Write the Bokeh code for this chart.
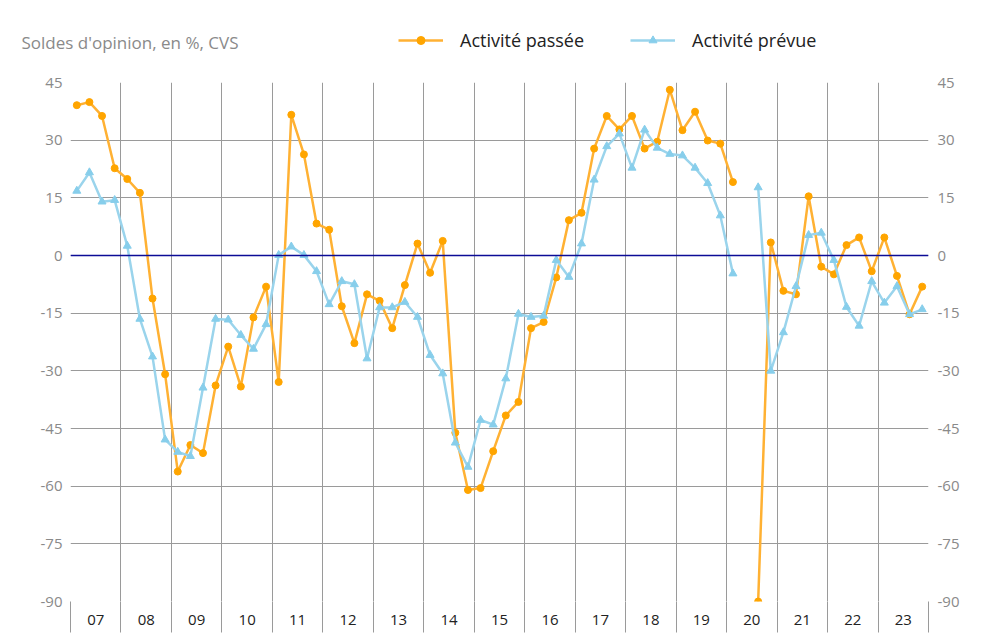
from bokeh.plotting import figure
from bokeh.layouts import column
from bokeh.models import (FixedTicker, Span, Legend, LegendItem, Label,
                          LinearAxis, Range1d, ColumnDataSource)
from bokeh.embed import file_html
from bokeh.resources import INLINE

years = list(range(2007, 2024))
year_labels = ["07", "08", "09", "10", "11", "12", "13", "14", "15",
               "16", "17", "18", "19", "20", "21", "22", "23"]
quarters = [1, 2, 3, 4]
y_ticks = [-90, -75, -60, -45, -30, -15, 0, 15, 30, 45]

nan = float("nan")
activite_passee = [
    39.1, 39.9, 36.3, 22.7,
    19.9, 16.3, -11.2, -30.9,
    -56.2, -49.3, -51.4, -33.8,
    -23.7, -34.1, -16.1, -8.1,
    -32.9, 36.6, 26.3, 8.3,
    6.7, -13.2, -22.8, -10.1,
    -11.8, -18.9, -7.7, 3.1,
    -4.5, 3.8, -46.1, -61.0,
    -60.5, -50.9, -41.6, -38.1,
    -18.9, -17.3, -5.7, 9.2,
    11.1, 27.8, 36.3, 32.8,
    36.3, 27.8, 29.6, 43.1,
    32.6, 37.4, 29.9, 29.1,
    19.1, nan, -90.0, 3.4,
    -9.2, -10.1, 15.4, -2.9,
    -4.9, 2.7, 4.7, -4.1,
    4.7, -5.3, -15.3, -8.1,
]
activite_prevue = [
    16.8, 21.6, 14.0, 14.4,
    2.5, -16.5, -26.3, -47.9,
    -51.1, -52.2, -34.4, -16.5,
    -16.7, -20.7, -24.3, -17.9,
    0.1, 2.3, 0.1, -4.1,
    -12.7, -6.7, -7.5, -26.8,
    -13.5, -13.5, -12.1, -16.0,
    -25.9, -30.7, -48.7, -55.0,
    -42.8, -44.0, -32.0, -15.2,
    -16.0, -15.7, -1.2, -5.6,
    3.1, 19.7, 28.4, 31.7,
    22.8, 32.7, 28.0, 26.4,
    26.0, 22.8, 18.8, 10.4,
    -4.7, nan, 17.7, -30.0,
    -20.0, -8.0, 5.3, 5.9,
    -1.2, -13.4, -18.3, -6.7,
    -12.3, -8.0, -15.3, -14.0,
]

x = [y + (q - 0.5) / 4 for y in years for q in quarters]
src = ColumnDataSource(dict(x=x, passee=activite_passee, prevue=activite_prevue))

centers = [y + 0.5 for y in years]
bounds = years + [years[-1] + 1]
y_labels = {t: str(t) for t in y_ticks}

FONT = "Open Sans"
ORANGE_LINE = "#FFB133"
ORANGE = "#FFA500"
BLUE_LINE = "#9AD4EC"
BLUE = "#87CEEB"
GRID = "#9a9a9a"
W = 980
TOP_H = 64

# ---------- header strip: subtitle + legend ----------
# (its ranges lie away from the data, so its renderers only feed the legend)
head = figure(width=W, height=TOP_H, output_backend="svg", toolbar_location=None,
              x_range=Range1d(0, 1), y_range=Range1d(0, 1),
              min_border_left=0, min_border_right=0, min_border_top=0, min_border_bottom=0)
head.frame_align = False
head.axis.visible = False
head.grid.visible = False
head.outline_line_color = None
head.border_fill_color = "white"
hl1 = head.line("x", "passee", source=src, line_color=ORANGE_LINE, line_width=2.5)
hs1 = head.scatter("x", "passee", source=src, marker="circle", size=7,
                   fill_color=ORANGE, line_color=ORANGE)
hl2 = head.line("x", "prevue", source=src, line_color=BLUE_LINE, line_width=2.5)
hs2 = head.scatter("x", "prevue", source=src, marker="triangle", size=8,
                   fill_color=BLUE, line_color=BLUE)

legend = Legend(items=[LegendItem(label="Activité passée", renderers=[hl1, hs1]),
                       LegendItem(label="Activité prévue", renderers=[hl2, hs2])],
                location=(398, TOP_H - 52), orientation="horizontal",
                glyph_width=45, glyph_height=20, label_standoff=17, spacing=46,
                padding=0, margin=0, border_line_color=None, background_fill_alpha=0,
                label_text_font=FONT, label_text_font_size="18px",
                label_text_color="#222222")
head.add_layout(legend, "center")
head.add_layout(Label(x=21, y=TOP_H - 42, x_units="screen", y_units="screen",
                      text="Soldes d'opinion, en %, CVS", text_font=FONT,
                      text_font_size="17px", text_color="#8a8a8a",
                      text_baseline="middle", text_align="left"))

# ---------- main chart ----------
p = figure(width=W, height=570, output_backend="svg", toolbar_location=None,
           x_range=Range1d(years[0], years[-1] + 1), y_range=Range1d(-90, 45),
           min_border_left=70, min_border_right=52, min_border_top=82 - TOP_H,
           min_border_bottom=33)
p.frame_align = False
p.outline_line_color = None
p.background_fill_color = "white"
p.border_fill_color = "white"

# y axes
p.yaxis.ticker = FixedTicker(ticks=y_ticks)
p.yaxis.major_label_overrides = y_labels
p.yaxis.axis_line_color = None
p.yaxis.major_tick_line_color = None
p.yaxis.minor_tick_line_color = None
p.yaxis.major_tick_out = 0
p.yaxis.major_tick_in = 0
p.yaxis.major_label_standoff = 8
p.yaxis.major_label_text_color = "#8a8a8a"
p.yaxis.major_label_text_font = FONT
p.yaxis.major_label_text_font_size = "15px"

ry = LinearAxis(ticker=FixedTicker(ticks=y_ticks))
ry.major_label_overrides = y_labels
ry.axis_line_color = None
ry.major_tick_line_color = None
ry.minor_tick_line_color = None
ry.major_tick_out = 0
ry.major_tick_in = 0
ry.major_label_standoff = 9
ry.major_label_text_color = "#8a8a8a"
ry.major_label_text_font = FONT
ry.major_label_text_font_size = "15px"
p.add_layout(ry, "right")

# x axis
p.xaxis.ticker = FixedTicker(ticks=centers, minor_ticks=bounds)
p.xaxis.major_label_overrides = {c: l for c, l in zip(centers, year_labels)}
p.xaxis.axis_line_color = None
p.xaxis.major_tick_line_color = None
p.xaxis.major_tick_out = 0
p.xaxis.major_tick_in = 0
p.xaxis.minor_tick_line_color = GRID
p.xaxis.minor_tick_out = 31
p.xaxis.minor_tick_in = 0
p.xaxis.major_label_standoff = -18
p.xaxis.major_label_text_color = "#222222"
p.xaxis.major_label_text_font = FONT
p.xaxis.major_label_text_font_size = "15px"

# grids
p.xgrid.ticker = FixedTicker(ticks=bounds)
p.xgrid.grid_line_color = GRID
p.ygrid.grid_line_color = GRID

p.add_layout(Span(location=0, dimension="width", line_color="#0c0c96", line_width=1.6))

p.line("x", "passee", source=src, line_color=ORANGE_LINE, line_width=2.5)
p.scatter("x", "passee", source=src, marker="circle", size=7,
          fill_color=ORANGE, line_color=ORANGE)
p.line("x", "prevue", source=src, line_color=BLUE_LINE, line_width=2.5)
p.scatter("x", "prevue", source=src, marker="triangle", size=8,
          fill_color=BLUE, line_color=BLUE)

layout = column(head, p, spacing=0)
open("out.html", "w").write(file_html(layout, INLINE))
